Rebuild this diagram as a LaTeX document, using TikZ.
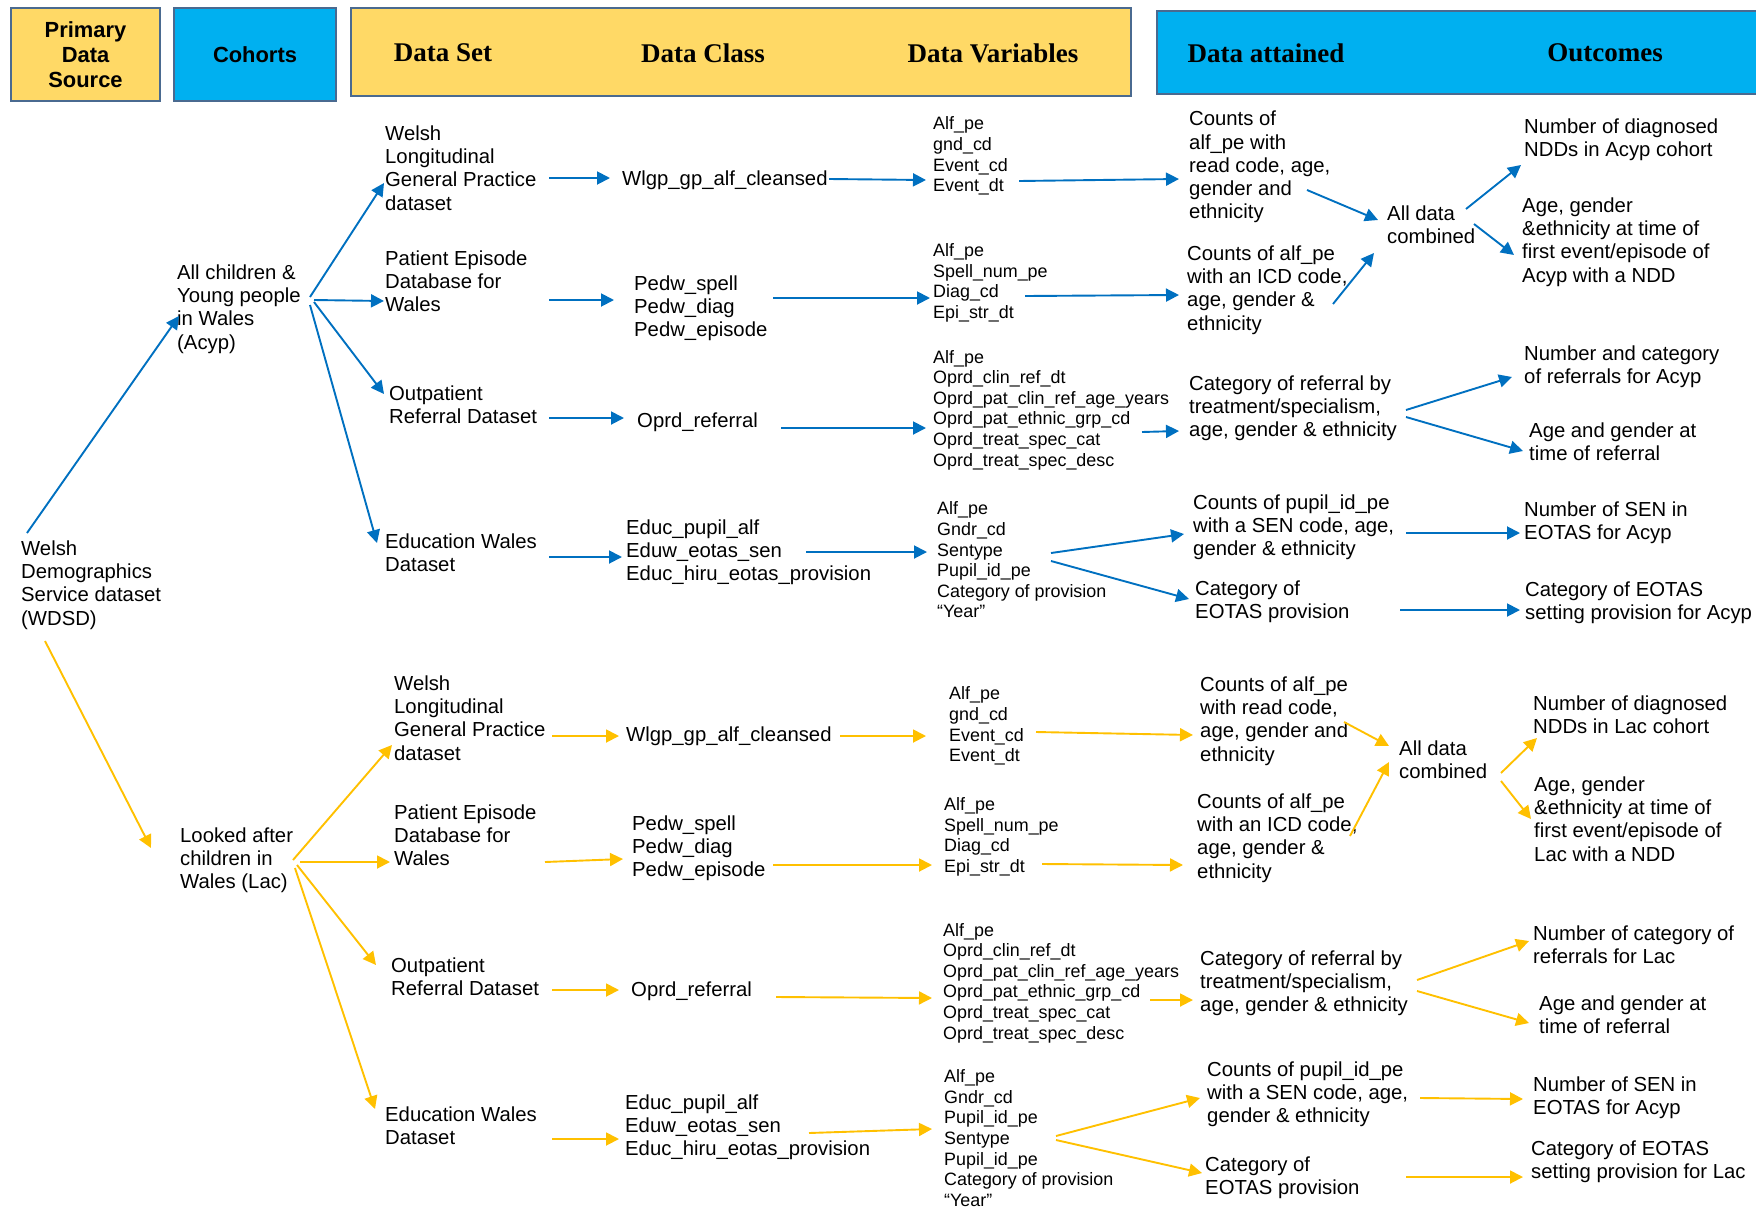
\documentclass[tikz,border=0pt]{standalone}
\usepackage{fontspec}
\setmainfont{Liberation Sans}
\newfontfamily\hdserif{Liberation Serif}
\usepackage{tikz}
\usetikzlibrary{arrows.meta,shapes}

\definecolor{hdyellow}{HTML}{FFD966}
\definecolor{hdblue}{HTML}{00B0F0}
\definecolor{hdline}{HTML}{4A6A90}
\definecolor{acypblue}{HTML}{0070C0}
\definecolor{lacgold}{HTML}{FFC000}

% arrow between two named nodes, both ends shifted from the west anchor
\newcommand{\Conn}[5]{\draw[#1] ([shift={(#3)}]#2.west) -- ([shift={(#5)}]#4.west);}

\begin{document}
\begin{tikzpicture}[x=1pt,y=-1pt,
    hbox/.style={draw=hdline, line width=2.5pt, inner sep=0pt},
    htxt/.style={font=\hdserif\bfseries\fontsize{27}{30}\selectfont},
    hsans/.style={font=\bfseries\fontsize{21.9}{25.2}\selectfont, align=center},
    txt/.style={anchor=west, inner sep=0pt, align=left, font=\fontsize{20.3}{23.2}\selectfont},
    var/.style={txt, font=\fontsize{17.9}{20.6}\selectfont},
    barr/.style={color=acypblue, line width=1.9pt, -{Triangle[length=13pt,width=13pt]}},
    yarr/.style={barr, color=lacgold}]
    \useasboundingbox (0,0) rectangle (1756,1208);

    % header row
    \node[hbox, fill=hdyellow, minimum width=149, minimum height=93, hsans] (psrc) at (85.5,54.5) {Primary\\Data\\Source};
    \node[hbox, fill=hdblue, minimum width=162, minimum height=93, hsans] (coh) at (255,54.5) {Cohorts};
    \node[hbox, fill=hdyellow, minimum width=780, minimum height=88] (dsbox) at (741,52) {};
    \node[hbox, fill=hdblue, minimum width=605, minimum height=83] (oubox) at (1459.5,52.5) {};
    \node[htxt] (hset) at (443,53) {Data Set};
    \node[htxt] (hclass) at (703,53) {Data Class};
    \node[htxt] (hvars) at (993,53) {Data Variables};
    \node[htxt] (hatt) at (1266,53) {Data attained};
    \node[htxt] (hout) at (1605,53) {Outcomes};

    % source and cohorts
    \node[txt] (wdsd) at (21,585) {Welsh\\Demographics\\Service dataset\\(WDSD)};
    \node[txt] (acyp) at (177,309) {All children \&\\Young people\\in Wales\\(Acyp)};
    \node[txt] (lac) at (180,860) {Looked after\\children in\\Wales (Lac)};

    % Acyp branch
    \node[txt] (wlgpA) at (385,168) {Welsh\\Longitudinal\\General Practice\\dataset};
    \node[txt] (pedwA) at (385,281) {Patient Episode\\Database for\\Wales};
    \node[txt] (oprdA) at (389,405) {Outpatient\\Referral Dataset};
    \node[txt] (eduA) at (385,553) {Education Wales\\Dataset};
    \node[txt] (wlgpcA) at (622,180) {Wlgp\_gp\_alf\_cleansed};
    \node[txt] (pedwcA) at (634,308) {Pedw\_spell\\Pedw\_diag\\Pedw\_episode};
    \node[txt] (oprdcA) at (637,422) {Oprd\_referral};
    \node[txt] (educA) at (626,552) {Educ\_pupil\_alf\\Eduw\_eotas\_sen\\Educ\_hiru\_eotas\_provision};
    \node[var] (var1A) at (933,156) {Alf\_pe\\gnd\_cd\\Event\_cd\\Event\_dt};
    \node[var] (var2A) at (933,283) {Alf\_pe\\Spell\_num\_pe\\Diag\_cd\\Epi\_str\_dt};
    \node[var] (var3A) at (933,410) {Alf\_pe\\Oprd\_clin\_ref\_dt\\Oprd\_pat\_clin\_ref\_age\_years\\Oprd\_pat\_ethnic\_grp\_cd\\Oprd\_treat\_spec\_cat\\Oprd\_treat\_spec\_desc};
    \node[var] (var4A) at (937,560) {Alf\_pe\\Gndr\_cd\\Sentype\\Pupil\_id\_pe\\Category of provision\\“Year”};
    \node[txt] (att1A) at (1189,167) {Counts of\\alf\_pe with\\read code, age,\\gender and\\ethnicity};
    \node[txt] (att2A) at (1187,290) {Counts of alf\_pe\\with an ICD code,\\age, gender \&\\ethnicity};
    \node[txt] (allA) at (1387,225) {All data\\combined};
    \node[txt] (att3A) at (1189,408) {Category of referral by\\treatment/specialism,\\age, gender \& ethnicity};
    \node[txt] (att4A) at (1193,527) {Counts of pupil\_id\_pe\\with a SEN code, age,\\gender \& ethnicity};
    \node[txt] (att5A) at (1195,602) {Category of\\EOTAS provision};
    \node[txt] (out1A) at (1524,140) {Number of diagnosed\\NDDs in Acyp cohort};
    \node[txt] (out2A) at (1522,242) {Age, gender\\\&ethnicity at time of\\first event/episode of\\Acyp with a NDD};
    \node[txt] (out3A) at (1524,367) {Number and category\\of referrals for Acyp};
    \node[txt] (out4A) at (1529,442) {Age and gender at\\time of referral};
    \node[txt] (out5A) at (1524,523) {Number of SEN in\\EOTAS for Acyp};
    \node[txt] (out6A) at (1525,603) {Category of EOTAS\\setting provision for Acyp};

    % Lac branch
    \node[txt] (wlgpB) at (394,718) {Welsh\\Longitudinal\\General Practice\\dataset};
    \node[txt] (pedwB) at (394,835) {Patient Episode\\Database for\\Wales};
    \node[txt] (oprdB) at (391,977) {Outpatient\\Referral Dataset};
    \node[txt] (eduB) at (385,1126) {Education Wales\\Dataset};
    \node[txt] (wlgpcB) at (626,736) {Wlgp\_gp\_alf\_cleansed};
    \node[txt] (pedwcB) at (632,848) {Pedw\_spell\\Pedw\_diag\\Pedw\_episode};
    \node[txt] (oprdcB) at (631,991) {Oprd\_referral};
    \node[txt] (educB) at (625,1127) {Educ\_pupil\_alf\\Eduw\_eotas\_sen\\Educ\_hiru\_eotas\_provision};
    \node[var] (var1B) at (949,726) {Alf\_pe\\gnd\_cd\\Event\_cd\\Event\_dt};
    \node[var] (var2B) at (944,837) {Alf\_pe\\Spell\_num\_pe\\Diag\_cd\\Epi\_str\_dt};
    \node[var] (var3B) at (943,983) {Alf\_pe\\Oprd\_clin\_ref\_dt\\Oprd\_pat\_clin\_ref\_age\_years\\Oprd\_pat\_ethnic\_grp\_cd\\Oprd\_treat\_spec\_cat\\Oprd\_treat\_spec\_desc};
    \node[var] (var4B) at (944,1138) {Alf\_pe\\Gndr\_cd\\Pupil\_id\_pe\\Sentype\\Pupil\_id\_pe\\Category of provision\\“Year”};
    \node[txt] (att1B) at (1200,721) {Counts of alf\_pe\\with read code,\\age, gender and\\ethnicity};
    \node[txt] (att2B) at (1197,838) {Counts of alf\_pe\\with an ICD code,\\age, gender \&\\ethnicity};
    \node[txt] (allB) at (1399,760) {All data\\combined};
    \node[txt] (att3B) at (1200,983) {Category of referral by\\treatment/specialism,\\age, gender \& ethnicity};
    \node[txt] (att4B) at (1207,1094) {Counts of pupil\_id\_pe\\with a SEN code, age,\\gender \& ethnicity};
    \node[txt] (att5B) at (1205,1178) {Category of\\EOTAS provision};
    \node[txt] (out1B) at (1533,715) {Number of diagnosed\\NDDs in Lac cohort};
    \node[txt] (out2B) at (1534,819) {Age, gender\\\&ethnicity at time of\\first event/episode of\\Lac with a NDD};
    \node[txt] (out3B) at (1533,945) {Number of category of\\referrals for Lac};
    \node[txt] (out4B) at (1539,1015) {Age and gender at\\time of referral};
    \node[txt] (out5B) at (1533,1098) {Number of SEN in\\EOTAS for Acyp};
    \node[txt] (out6B) at (1531,1162) {Category of EOTAS\\setting provision for Lac};

    % blue arrows
    \Conn{barr}{wdsd}{6,-52}{acyp}{2,7}
    \Conn{barr}{acyp}{133,-12}{wlgpA}{-1,15}
    \Conn{barr}{acyp}{137,-9}{pedwA}{-1,20}
    \Conn{barr}{acyp}{137,-7}{oprdA}{-5,-11}
    \Conn{barr}{acyp}{133,-4}{eduA}{-8,-10}
    \Conn{barr}{wlgpA}{164,10}{wlgpcA}{-12,-2}
    \Conn{barr}{wlgpcA}{207,-1}{var1A}{-7,24}
    \Conn{barr}{var1A}{86,25}{att1A}{-10,12}
    \Conn{barr}{pedwA}{164,19}{pedwcA}{-20,-8}
    \Conn{barr}{pedwcA}{139,-10}{var2A}{-3,15}
    \Conn{barr}{var2A}{92,13}{att2A}{-8,5}
    \Conn{barr}{att1A}{118,23}{allA}{-9,-5}
    \Conn{barr}{att2A}{146,14}{allA}{-13,28}
    \Conn{barr}{allA}{79,-16}{out1A}{-3,25}
    \Conn{barr}{allA}{87,-1}{out2A}{-8,13}
    \Conn{barr}{oprdA}{160,13}{oprdcA}{-13,-4}
    \Conn{barr}{oprdcA}{144,6}{var3A}{-7,18}
    \Conn{barr}{var3A}{209,22}{att3A}{-10,23}
    \Conn{barr}{att3A}{217,2}{out3A}{-12,10}
    \Conn{barr}{att3A}{217,9}{out4A}{-6,9}
    \Conn{barr}{eduA}{164,4}{educA}{-4,5}
    \Conn{barr}{educA}{180,0}{var4A}{-10,-8}
    \Conn{barr}{var4A}{114,-7}{att4A}{-9,7}
    \Conn{barr}{var4A}{114,1}{att5A}{-6,-3}
    \Conn{barr}{att4A}{213,6}{out5A}{-4,10}
    \Conn{barr}{att5A}{205,8}{out6A}{-5,7}

    % yellow arrows
    \Conn{yarr}{wdsd}{24,56}{lac}{-29,-12}
    \Conn{yarr}{lac}{113,0}{wlgpB}{-2,27}
    \Conn{yarr}{lac}{120,2}{pedwB}{-4,27}
    \Conn{yarr}{lac}{117,5}{oprdB}{-15,-12}
    \Conn{yarr}{lac}{115,8}{eduB}{-10,-17}
    \Conn{yarr}{wlgpB}{158,18}{wlgpcB}{-7,0}
    \Conn{yarr}{wlgpcB}{214,0}{var1B}{-23,10}
    \Conn{yarr}{var1B}{87,6}{att1B}{-7,14}
    \Conn{yarr}{pedwB}{151,27}{pedwcB}{-9,11}
    \Conn{yarr}{pedwcB}{141,17}{var2B}{-12,28}
    \Conn{yarr}{var2B}{98,27}{att2B}{-14,27}
    \Conn{yarr}{att1B}{144,1}{allB}{-10,-14}
    \Conn{yarr}{att2B}{153,-2}{allB}{-10,2}
    \Conn{yarr}{allB}{102,13}{out1B}{4,23}
    \Conn{yarr}{allB}{102,21}{out2B}{-3,0}
    \Conn{yarr}{oprdB}{161,13}{oprdcB}{-12,-1}
    \Conn{yarr}{oprdcB}{145,6}{var3B}{-11,15}
    \Conn{yarr}{var3B}{207,17}{att3B}{-7,17}
    \Conn{yarr}{att3B}{217,-3}{out3B}{-4,-4}
    \Conn{yarr}{att3B}{217,8}{out4B}{-10,8}
    \Conn{yarr}{eduB}{167,13}{educB}{-6,12}
    \Conn{yarr}{educB}{184,6}{var4B}{-12,-9}
    \Conn{yarr}{var4B}{112,-2}{att4B}{-7,4}
    \Conn{yarr}{var4B}{112,2}{att5B}{-3,-5}
    \Conn{yarr}{att4B}{213,4}{out5B}{-10,1}
    \Conn{yarr}{att5B}{201,-1}{out6B}{-8,15}
\end{tikzpicture}
\end{document}
